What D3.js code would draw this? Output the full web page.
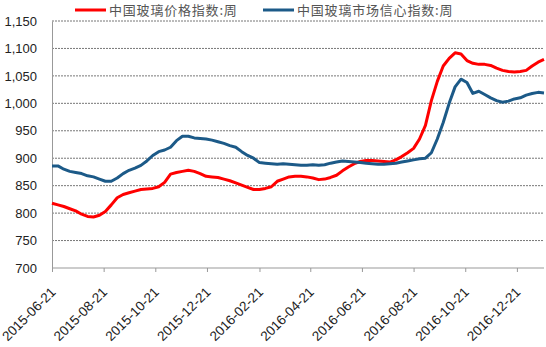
<!DOCTYPE html>
<html>
<head>
<meta charset="utf-8">
<script src="https://cdn.jsdelivr.net/npm/d3@7"></script>
<style>
    body { margin: 0; background: #fff; }
    svg { display: block; font-family: "Liberation Sans", Arial, sans-serif; }
    .grid line { stroke: #777; stroke-dasharray: 2 1; stroke-width: 1; }
    .axis text { fill: #222; }
</style>
</head>
<body>
<div id="chart"></div>
<script>
// weekly series, starting 2015-06-21
const startDate = '2015-06-21';
const seriesNames = ['中国玻璃价格指数:周', '中国玻璃市场信心指数:周'];
const priceIndex = [
    818, 815, 812, 808, 804, 798, 794, 793, 796, 803,
    815, 828, 834, 837, 840, 843, 844, 845, 848, 856,
    871, 874, 876, 878, 876, 872, 867, 866, 865, 862,
    859, 855, 851, 847, 843, 843, 845, 848, 858, 862,
    866, 867, 867, 866, 864, 861, 862, 865, 869, 877,
    884, 890, 894, 896, 896, 895, 894, 893, 897, 903,
    910, 918, 935, 960, 1005, 1040, 1068, 1082, 1092, 1090,
    1078, 1073, 1071, 1071, 1069, 1064, 1060, 1058, 1057, 1058,
    1060, 1068, 1075, 1080
];
const confidenceIndex = [
    886, 886, 880, 876, 874, 872, 868, 866, 862, 858,
    858, 864, 872, 878, 882, 887, 895, 905, 912, 915,
    920, 932, 940, 940, 937, 936, 935, 933, 930, 927,
    923, 920, 912, 905, 900, 892, 891, 890, 889, 890,
    889, 888, 887, 887, 888, 887, 888, 891, 893, 895,
    894, 893, 892, 891, 890, 889, 889, 890, 891, 893,
    895, 897, 899, 900, 910, 935, 965, 1000, 1030, 1044,
    1038, 1018, 1022, 1016, 1010, 1005, 1002, 1004, 1008, 1010,
    1015, 1018, 1020, 1019
];
const yTicks = [700, 750, 800, 850, 900, 950, 1000, 1050, 1100, 1150];
const xTickLabels = ['2015-06-21', '2015-08-21', '2015-10-21', '2015-12-21', '2016-02-21',
    '2016-04-21', '2016-06-21', '2016-08-21', '2016-10-21', '2016-12-21'];
const colors = ['#ff0000', '#1c5a88'];

const width = 546, height = 347;
const margin = { top: 21, right: 2, bottom: 79, left: 52 };

const parse = d3.timeParse('%Y-%m-%d');
const t0 = parse(startDate);
const dates = priceIndex.map((_, i) => d3.timeDay.offset(t0, i * 7));

const x = d3.scaleTime()
    .domain([t0, dates[dates.length - 1]])
    .range([margin.left, width - margin.right]);
const y = d3.scaleLinear()
    .domain([700, 1150])
    .range([height - margin.bottom, margin.top]);

const svg = d3.select('#chart').append('svg')
    .attr('width', width)
    .attr('height', height);

// gridlines
svg.append('g').attr('class', 'grid')
    .selectAll('line').data(yTicks.filter(v => v > 700)).join('line')
    .attr('x1', margin.left).attr('x2', width - margin.right)
    .attr('y1', d => y(d)).attr('y2', d => y(d));

// y axis
const yAxis = svg.append('g').attr('class', 'axis')
    .attr('transform', `translate(${margin.left},0)`)
    .call(d3.axisLeft(y).tickValues(yTicks).tickFormat(d3.format(',')).tickSize(0).tickPadding(15))
    .attr('font-family', '"Liberation Sans", Arial, sans-serif');
yAxis.select('.domain').attr('stroke', '#999');
yAxis.selectAll('text').style('font-size', '13px');

// x axis
const xAxis = svg.append('g').attr('class', 'axis')
    .attr('transform', `translate(0,${y(700)})`)
    .call(d3.axisBottom(x).tickValues(xTickLabels.map(parse)).tickFormat(d3.timeFormat('%Y-%m-%d')).tickSize(4).tickSizeOuter(0))
    .attr('font-family', '"Liberation Sans", Arial, sans-serif');
xAxis.select('.domain').attr('stroke', '#999').attr('d', `M${margin.left},0H${width - margin.right}`);
xAxis.selectAll('.tick line').attr('stroke', '#999');
xAxis.selectAll('text')
    .style('font-size', '13.5px')
    .attr('text-anchor', 'end')
    .attr('dy', null).attr('y', 0)
    .attr('transform', 'translate(4,25) rotate(-45)');

// lines
const line = d3.line().x((d, i) => x(dates[i])).y(d => y(d));
[priceIndex, confidenceIndex].forEach((s, k) => {
    svg.append('path')
        .datum(s)
        .attr('fill', 'none')
        .attr('stroke', colors[k])
        .attr('stroke-width', 3)
        .attr('stroke-linejoin', 'round')
        .attr('d', line);
});

// legend
const legendX = [75, 263];
seriesNames.forEach((name, k) => {
    const g = svg.append('g').attr('transform', `translate(${legendX[k]},10)`);
    g.append('line').attr('x1', 0).attr('x2', 31).attr('stroke', colors[k]).attr('stroke-width', 3);
    g.append('text').attr('x', 34).attr('dy', '0.36em')
        .style('font-size', '13px').style('fill', '#555')
        .style('letter-spacing', '0.8px')
        .style('font-family', '"Noto Sans CJK SC", sans-serif')
        .text(name);
});
</script>
</body>
</html>
